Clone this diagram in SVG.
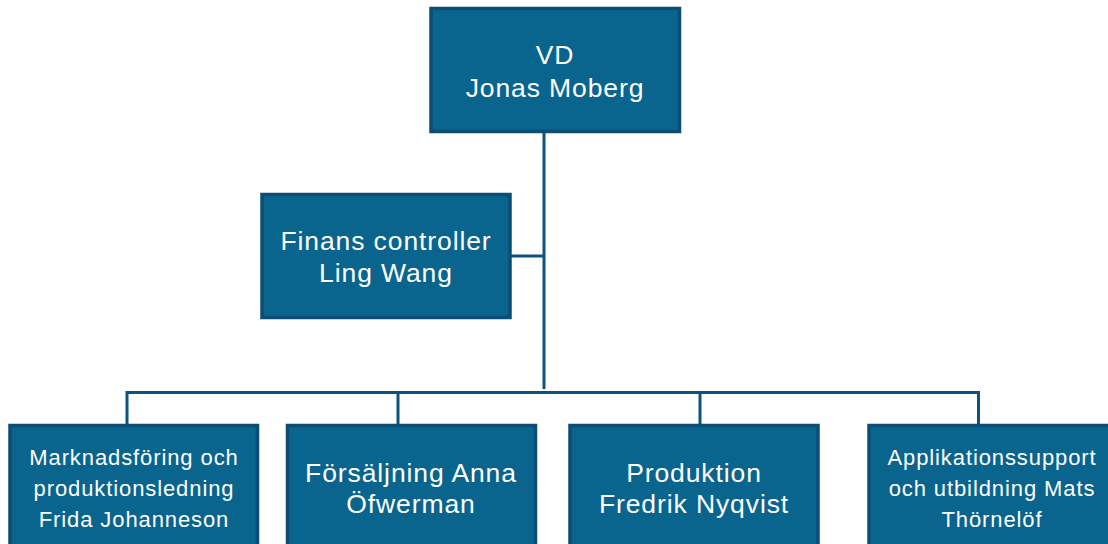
<svg xmlns="http://www.w3.org/2000/svg" width="1108" height="544" viewBox="0 0 1108 544">
<style>
.box{fill:#09648e;stroke:#0b4d75;stroke-width:3.5}
.ln{fill:none;stroke:#0c5380;stroke-width:3}
.t{fill:#ffffff;font-family:"Liberation Sans",Arial,sans-serif;text-anchor:middle}
.lg{font-size:26.5px;letter-spacing:0.9px}
.sm{font-size:22px;letter-spacing:0.9px}
</style>
<rect width="1108" height="544" fill="#ffffff"/>
<g id="connectors">
<path class="ln" d="M544 132 V389"/>
<path class="ln" d="M511 256 H544"/>
<path class="ln" d="M127 424 V392.5 H978.5 V424"/>
<path class="ln" d="M398 392 V424"/>
<path class="ln" d="M700 392 V424"/>
</g>
<g id="vd">
<rect class="box" x="431" y="8.5" width="248.5" height="123"/>
<text class="t lg" x="555" y="64">VD</text>
<text class="t lg" x="555" y="97">Jonas Moberg</text>
</g>
<g id="finans">
<rect class="box" x="262" y="194.5" width="248" height="123"/>
<text class="t lg" x="386" y="250">Finans controller</text>
<text class="t lg" x="386" y="282">Ling Wang</text>
</g>
<g id="marknad">
<rect class="box" x="10" y="425.5" width="247.5" height="130"/>
<text class="t sm" x="134" y="465">Marknadsföring och</text>
<text class="t sm" x="134" y="496">produktionsledning</text>
<text class="t sm" x="134" y="527">Frida Johanneson</text>
</g>
<g id="forsaljning">
<rect class="box" x="287.5" y="425.5" width="248" height="130"/>
<text class="t lg" x="411" y="482">Försäljning Anna</text>
<text class="t lg" x="411" y="513">Öfwerman</text>
</g>
<g id="produktion">
<rect class="box" x="570" y="425.5" width="248" height="130"/>
<text class="t lg" x="694" y="482">Produktion</text>
<text class="t lg" x="694" y="513">Fredrik Nyqvist</text>
</g>
<g id="applikation">
<rect class="box" x="869" y="425.5" width="248" height="130"/>
<text class="t sm" x="992" y="465">Applikationssupport</text>
<text class="t sm" x="992" y="496">och utbildning Mats</text>
<text class="t sm" x="992" y="527">Thörnelöf</text>
</g>
</svg>
